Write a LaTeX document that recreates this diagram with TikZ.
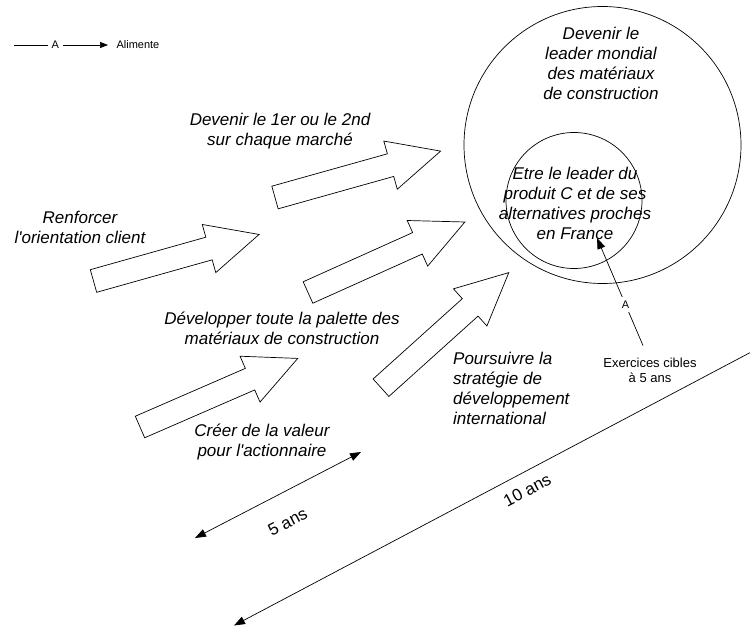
\documentclass[tikz,border=0pt]{standalone}
\usepackage{fontspec}
\setmainfont{Liberation Sans}
\usetikzlibrary{arrows.meta}

\newcommand\goalfont{\fontsize{17}{20}\selectfont\itshape}
\newcommand\notefont{\fontsize{13}{15}\selectfont}
\newcommand\keyfont{\fontsize{11}{12}\selectfont}

\tikzset{
  thinline/.style={line width=0.7pt},
  feeds/.style={thinline, -{Triangle[length=11pt,width=8pt]}},
  span/.style={thinline, {Triangle[length=11pt,width=8pt]}-{Triangle[length=11pt,width=8pt]}},
  goal/.style={font=\goalfont, align=center, inner sep=0pt},
  tag/.style={font=\keyfont, fill=white, inner sep=4pt},
  ring/.style={thinline, draw, circle, inner sep=0pt},
  blockarrow/.pic={
    \draw[thinline, fill=white] (0,-11.75) -- (120,-11.75) -- (120,-25) -- (172,0)
      -- (120,25) -- (120,11.75) -- (0,11.75) -- cycle;
  }
}

\begin{document}
\begin{tikzpicture}[x=1pt, y=-1pt]
\useasboundingbox (0,0) rectangle (750,628);

% legend
\coordinate (key-a) at (14,45);
\coordinate (key-b) at (108,45);
\draw[thinline, -{Triangle[length=8pt,width=6pt]}] (key-a) -- (key-b) node[tag, pos=0.44] {A};
\node[font=\keyfont, anchor=west] (key) at (113,45) {Alimente};

% the two targets
\node[ring, minimum size=277pt] (world) at (602.5,145) {};
\node[ring, minimum size=136pt] (france) at (574,200.5) {};
\node[goal] (world-txt) at (601,63) {Devenir le\\leader mondial\\des matériaux\\de construction};
\node[goal] (france-txt) at (575,203) {Etre le leader du\\produit C et de ses\\alternatives proches\\en France};

% block arrows
\pic[rotate=15.65] at (275,197.5) {blockarrow};
\pic[rotate=15.7] at (93.5,281) {blockarrow};
\pic[rotate=24.2] at (308,292.5) {blockarrow};
\pic[rotate=23.5] at (140,427) {blockarrow};
\pic[rotate=42] at (381,387.7) {blockarrow};

% axes
\node[goal] (share) at (280,131) {Devenir le 1er ou le 2nd\\sur chaque marché};
\node[goal] (client) at (80,227) {Renforcer\\l\textquotesingle orientation client};
\node[goal] (range) at (282,328) {Développer toute la palette des\\matériaux de construction};
\node[goal] (value) at (262,442) {Créer de la valeur\\pour l\textquotesingle actionnaire};
\node[goal, align=left, anchor=west] (abroad) at (453,388) {Poursuivre la\\stratégie de\\développement\\international};

% horizon
\node[font=\notefont, align=center, inner sep=0pt] (horizon) at (650,370) {Exercices cibles\\à 5 ans};
\coordinate (france-pt) at (597,238);
\draw[feeds] ([xshift=-7pt, yshift=12pt]horizon.north) -- (france-pt) node[tag, pos=0.38] {A};

% time spans
\coordinate (five-a) at (195,538);
\coordinate (five-b) at (361,452);
\draw[span] (five-a) -- (five-b) node[pos=0.48, sloped, below=22pt, inner sep=0pt, font=\fontsize{17}{20}\selectfont] {5 ans};
\coordinate (ten-a) at (234,625.5);
\coordinate (ten-b) at (762,346.3);
\draw[span] (ten-a) -- (ten-b) node[pos=0.54, sloped, below=11pt, inner sep=0pt, font=\fontsize{17}{20}\selectfont] {10 ans};
\end{tikzpicture}
\end{document}
